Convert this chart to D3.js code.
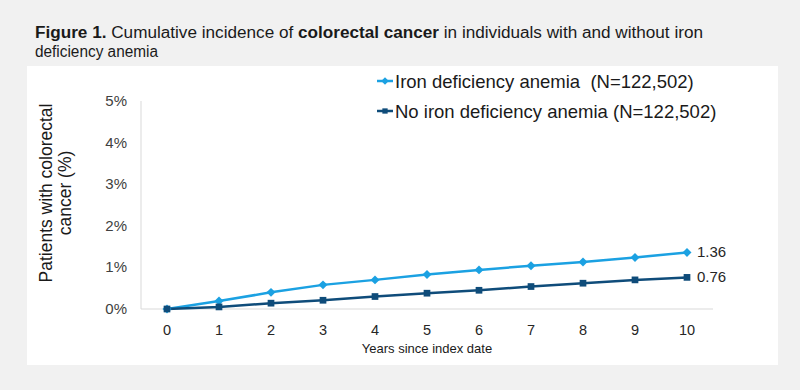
<!DOCTYPE html>
<html>
<head>
<meta charset="utf-8">
<script src="https://cdn.jsdelivr.net/npm/d3@7"></script>
<style>
  body { margin: 0; background: #f1f1f1; }
  svg { display: block; font-family: "Liberation Sans", Arial, sans-serif; }
</style>
</head>
<body>
<div id="chart"></div>
<script>
const years = [0, 1, 2, 3, 4, 5, 6, 7, 8, 9, 10];
const idaValues = [0, 0.19, 0.40, 0.58, 0.70, 0.83, 0.94, 1.04, 1.13, 1.24, 1.36];
const noIdaValues = [0, 0.05, 0.14, 0.21, 0.30, 0.38, 0.45, 0.54, 0.62, 0.70, 0.76];
const yTicks = [0, 1, 2, 3, 4, 5];
const seriesNames = ['Iron deficiency anemia  (N=122,502)', 'No iron deficiency anemia (N=122,502)'];
const endLabels = ['1.36', '0.76'];

const W = 800, H = 390;
const svg = d3.select('#chart').append('svg')
    .attr('width', W)
    .attr('height', H);

svg.append('rect')
    .attr('width', W).attr('height', H)
    .attr('fill', '#f1f1f1');

// white panel
svg.append('rect')
    .attr('x', 27).attr('y', 66)
    .attr('width', 751).attr('height', 299)
    .attr('fill', '#ffffff');

// title
const title = svg.append('text')
    .attr('x', 35).attr('y', 38)
    .attr('font-size', 16)
    .attr('fill', '#1a1a1a')
    .attr('textLength', 668)
    .attr('lengthAdjust', 'spacingAndGlyphs');
title.append('tspan').attr('font-weight', 'bold').text('Figure 1.');
title.append('tspan').text(' Cumulative incidence of ');
title.append('tspan').attr('font-weight', 'bold').text('colorectal cancer');
title.append('tspan').text(' in individuals with and without iron');
svg.append('text')
    .attr('x', 35).attr('y', 57)
    .attr('font-size', 16)
    .attr('fill', '#1a1a1a')
    .attr('textLength', 123)
    .attr('lengthAdjust', 'spacingAndGlyphs')
    .text('deficiency anemia');

const x = d3.scaleLinear().domain([0, 10]).range([167, 687]);
const y = d3.scaleLinear().domain([0, 5]).range([309, 101]);

// axis lines
svg.append('line')
    .attr('x1', 141).attr('x2', 141)
    .attr('y1', y(5)).attr('y2', y(0))
    .attr('stroke', '#d9d9d9');
svg.append('line')
    .attr('x1', 141).attr('x2', 713)
    .attr('y1', y(0)).attr('y2', y(0))
    .attr('stroke', '#d9d9d9');

// y ticks
svg.selectAll('.ytick')
    .data(yTicks)
    .enter()
    .append('text')
    .attr('x', 127)
    .attr('y', d => y(d) + 5)
    .attr('text-anchor', 'end')
    .attr('font-size', 15)
    .attr('fill', '#404040')
    .text(d => d + '%');

// x ticks
svg.selectAll('.xtick')
    .data(years)
    .enter()
    .append('text')
    .attr('x', d => x(d))
    .attr('y', 335)
    .attr('text-anchor', 'middle')
    .attr('font-size', 14.5)
    .attr('fill', '#262626')
    .text(d => d);

svg.append('text')
    .attr('x', 427).attr('y', 353)
    .attr('text-anchor', 'middle')
    .attr('font-size', 13)
    .attr('fill', '#1a1a1a')
    .text('Years since index date');

// y title
const yTitle = svg.append('text')
    .attr('transform', 'translate(52,193) rotate(-90)')
    .attr('text-anchor', 'middle')
    .attr('font-size', 17.5)
    .attr('fill', '#1a1a1a');
yTitle.append('tspan').attr('x', 0).attr('y', 0).text('Patients with colorectal');
yTitle.append('tspan').attr('x', 0).attr('y', 19).text('cancer (%)');

const colors = ['#1ba1e2', '#0f4c7a'];
const series = [idaValues, noIdaValues];

const line = d3.line()
    .x((d, i) => x(years[i]))
    .y(d => y(d));

series.forEach((vals, k) => {
    svg.append('path')
        .datum(vals)
        .attr('fill', 'none')
        .attr('stroke', colors[k])
        .attr('stroke-width', 2.5)
        .attr('d', line);
});

const diamond = d3.symbol().type(d3.symbolSquare).size(40);
const square = d3.symbol().type(d3.symbolSquare).size(45);

svg.selectAll('.ida')
    .data(idaValues)
    .enter()
    .append('path')
    .attr('transform', (d, i) => `translate(${x(years[i])},${y(d)}) rotate(45)`)
    .attr('d', diamond)
    .attr('fill', colors[0]);

svg.selectAll('.noida')
    .data(noIdaValues)
    .enter()
    .append('path')
    .attr('transform', (d, i) => `translate(${x(years[i])},${y(d)})`)
    .attr('d', square)
    .attr('fill', colors[1]);

// end labels
series.forEach((vals, k) => {
    svg.append('text')
        .attr('x', 697)
        .attr('y', y(vals[vals.length - 1]) + 5)
        .attr('font-size', 15)
        .attr('fill', '#262626')
        .text(endLabels[k]);
});

// legend
const legendY = [81, 111];
seriesNames.forEach((name, k) => {
    const g = svg.append('g').attr('transform', `translate(377,${legendY[k]})`);
    g.append('line')
        .attr('x1', 0).attr('x2', 16)
        .attr('stroke', colors[k])
        .attr('stroke-width', 2.5);
    g.append('path')
        .attr('transform', k === 0 ? 'translate(8,0) rotate(45)' : 'translate(8,0)')
        .attr('d', d3.symbol().type(d3.symbolSquare).size(28)())
        .attr('fill', colors[k]);
    g.append('text')
        .attr('x', 18)
        .attr('y', 7)
        .attr('font-size', 18.5)
        .attr('fill', '#1a1a1a')
        .style('white-space', 'pre')
        .text(name);
});
</script>
</body>
</html>
